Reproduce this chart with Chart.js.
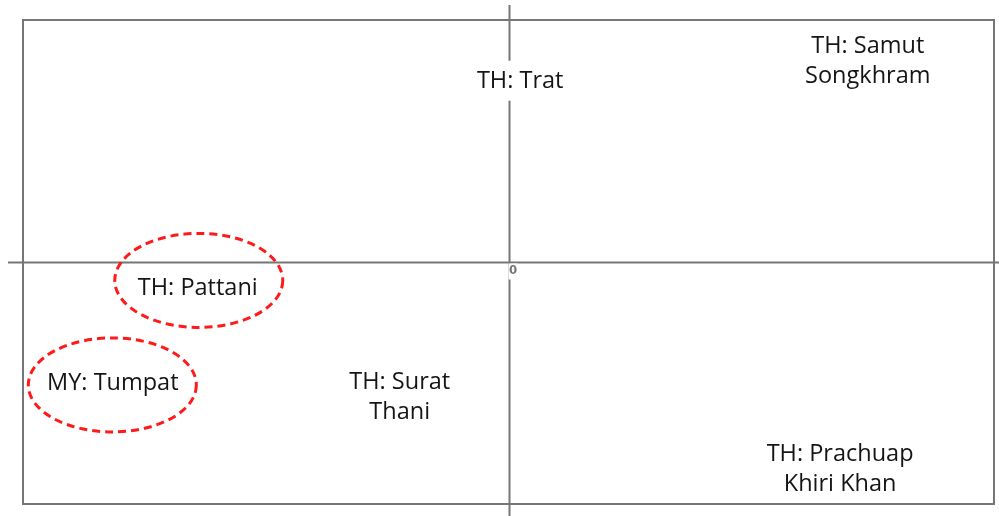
<!DOCTYPE html>
<html>
<head>
<meta charset="utf-8">
<script src="https://cdn.jsdelivr.net/npm/chart.js@4.4.1/dist/chart.umd.min.js"></script>
<style>
  html, body { margin: 0; padding: 0; background: #fff; }
  #wrap { width: 999px; height: 516px; position: relative; }
</style>
</head>
<body>
<div id="wrap"><canvas id="map"></canvas></div>
<script>
// Positioning map data (axes run from -1 to 1, origin at centre)
const placeNames = [
  ['TH: Samut', 'Songkhram'],
  ['TH: Trat'],
  ['TH: Pattani'],
  ['MY: Tumpat'],
  ['TH: Surat', 'Thani'],
  ['TH: Prachuap', 'Khiri Khan']
];
const xValues = [0.74, 0.024, -0.64, -0.815, -0.224, 0.683];
const yValues = [0.83, 0.745, -0.11, -0.50, -0.56, -0.855];

// hand-drawn highlight rings (centres in the same units)
const circledX = [-0.638, -0.816];
const circledY = [-0.076, -0.508];
const originLabel = '0';

const points = xValues.map((x, i) => ({ x: x, y: yValues[i] }));

const FONT = '23.5px "Open Sans", Calibri, sans-serif';
const LINE_H = 30;
const GREY = '#767676';

// frame, crossing axes and the "0" tick
const framePlugin = {
  id: 'frame',
  beforeDatasetsDraw(chart) {
    const { ctx, chartArea: a, scales } = chart;
    const ox = Math.round(scales.x.getPixelForValue(0)) + 0.5;
    const oy = Math.round(scales.y.getPixelForValue(0)) + 0.5;
    ctx.save();
    ctx.strokeStyle = GREY;
    ctx.lineWidth = 2;
    ctx.strokeRect(a.left, a.top, a.right - a.left, a.bottom - a.top);
    ctx.beginPath();
    ctx.moveTo(8, oy);
    ctx.lineTo(chart.width, oy);
    ctx.moveTo(ox, 5);
    ctx.lineTo(ox, chart.height);
    ctx.stroke();
    // label for origin sits on a white patch
    ctx.fillStyle = '#fff';
    ctx.fillRect(ox - 1, oy + 1, 9, 16);
    ctx.fillStyle = GREY;
    ctx.font = 'bold 13px "DejaVu Sans Condensed", "DejaVu Sans", sans-serif';
    ctx.textAlign = 'center';
    ctx.textBaseline = 'middle';
    ctx.fillText(originLabel, ox + 3.5, oy + 8);
    ctx.restore();
  }
};

// place names with white boxes, plus dashed ellipses
const labelPlugin = {
  id: 'placeLabels',
  afterDatasetsDraw(chart) {
    const { ctx, scales } = chart;
    ctx.save();
    ctx.font = FONT;
    ctx.textAlign = 'center';
    ctx.textBaseline = 'middle';
    placeNames.forEach((lines, i) => {
      const cx = scales.x.getPixelForValue(xValues[i]);
      const cy = scales.y.getPixelForValue(yValues[i]);
      const w = Math.max(...lines.map(l => ctx.measureText(l).width));
      const h = lines.length * LINE_H;
      ctx.fillStyle = '#fff';
      ctx.fillRect(cx - w / 2 - 4, cy - h / 2 - 6, w + 8, h + 10);
      ctx.fillStyle = '#151515';
      lines.forEach((l, j) => {
        ctx.fillText(l, cx, cy - h / 2 + LINE_H / 2 + j * LINE_H);
      });
    });

    ctx.setLineDash([8, 5]);
    ctx.strokeStyle = '#ff1a1a';
    ctx.lineWidth = 3;
    circledX.forEach((x, i) => {
      ctx.beginPath();
      ctx.ellipse(scales.x.getPixelForValue(x), scales.y.getPixelForValue(circledY[i]),
        84, 47, 0, 0, Math.PI * 2);
      ctx.stroke();
    });
    ctx.restore();
  }
};

new Chart(document.getElementById('map'), {
  type: 'scatter',
  data: {
    datasets: [{
      data: points,
      pointRadius: 0,
      showLine: false
    }]
  },
  options: {
    responsive: true,
    maintainAspectRatio: false,
    animation: false,
    layout: { padding: { left: 23, right: 5, top: 20, bottom: 12 } },
    plugins: {
      legend: { display: false },
      tooltip: { enabled: false }
    },
    scales: {
      x: { type: 'linear', min: -1, max: 1, display: false },
      y: { type: 'linear', min: -1, max: 1, display: false }
    }
  },
  plugins: [framePlugin, labelPlugin]
});
</script>
</body>
</html>
